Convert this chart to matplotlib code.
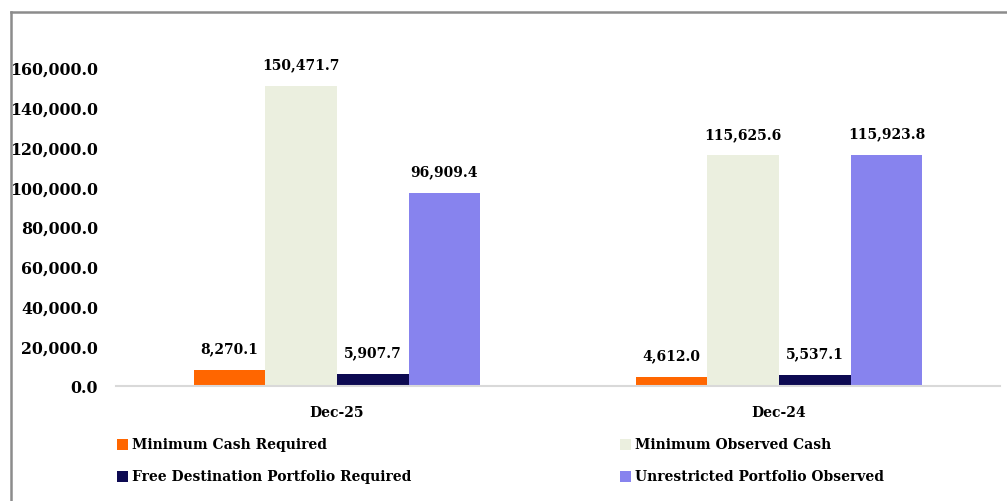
import matplotlib
matplotlib.use("Agg")
import matplotlib.pyplot as plt
from matplotlib.patches import Rectangle
from matplotlib.lines import Line2D
import numpy as np

categories = ["Dec-25", "Dec-24"]
series_names = ["Minimum Cash Required", "Minimum Observed Cash",
                "Free Destination Portfolio Required", "Unrestricted Portfolio Observed"]
min_cash_required = [8270.1, 4612.0]
min_observed_cash = [150471.7, 115625.6]
free_dest_required = [5907.7, 5537.1]
unrestricted_observed = [96909.4, 115923.8]
yticks = [0, 20000, 40000, 60000, 80000, 100000, 120000, 140000, 160000]

series_values = [min_cash_required, min_observed_cash, free_dest_required, unrestricted_observed]
colors = ["#FF6600", "#EBEFDF", "#0D0A52", "#8783EE"]

W, H = 1007, 502
fig = plt.figure(figsize=(W / 100, H / 100), dpi=100)
plt.rcParams['font.family'] = ['DejaVu Serif']
FONT = dict(family='DejaVu Serif', weight='bold')

# frame
fig.add_artist(Line2D([11 / W, 11 / W], [0, 1 - 13 / H], transform=fig.transFigure, color="#8C8C8C", lw=1.8))
fig.add_artist(Line2D([11 / W, 1], [1 - 13 / H, 1 - 13 / H], transform=fig.transFigure, color="#8C8C8C", lw=1.8))

ax = fig.add_axes([116 / W, 1 - 387 / H, (1000 - 116) / W, (387 - 68) / H])
x = np.arange(len(categories))
bw = 0.162
for i, (vals, c) in enumerate(zip(series_values, colors)):
    pos = x + (i - 1.5) * bw
    bars = ax.bar(pos, vals, width=bw, color=c, zorder=2)
    for b, v in zip(bars, vals):
        ax.annotate(f"{v:,.1f}", (b.get_x() + b.get_width() / 2, v), xytext=(0, 10.5),
                    textcoords="offset points", ha="center", va="bottom", fontsize=10, **FONT)

ax.set_xlim(-0.5, len(categories) - 0.5)
ax.set_ylim(0, 160000)
ax.set_yticks(yticks)
ax.set_yticklabels([f"{t:,.1f}" for t in yticks], fontsize=11.4, **FONT)
ax.set_xticks(x)
ax.set_xticklabels(categories, fontsize=10, **FONT)
ax.tick_params(axis='y', length=0, pad=13)
ax.tick_params(axis='x', length=0, pad=14)
for s in ["top", "right", "left"]:
    ax.spines[s].set_visible(False)
ax.spines["bottom"].set_color("#D9D9D9")
ax.spines["bottom"].set_linewidth(1.5)
ax.patch.set_alpha(0)

# legend
leg_pos = [(117, 445), (620, 445), (117, 477), (620, 477)]
for (lx, ly), name, c in zip(leg_pos, series_names, colors):
    fig.add_artist(Rectangle((lx / W, 1 - (ly + 5.5) / H), 11 / W, 11 / H, transform=fig.transFigure,
                             color=c, lw=0))
    fig.text((lx + 15) / W, 1 - ly / H, name, ha="left", va="center", fontsize=10, **FONT)

fig.savefig("out.png", dpi=100)
